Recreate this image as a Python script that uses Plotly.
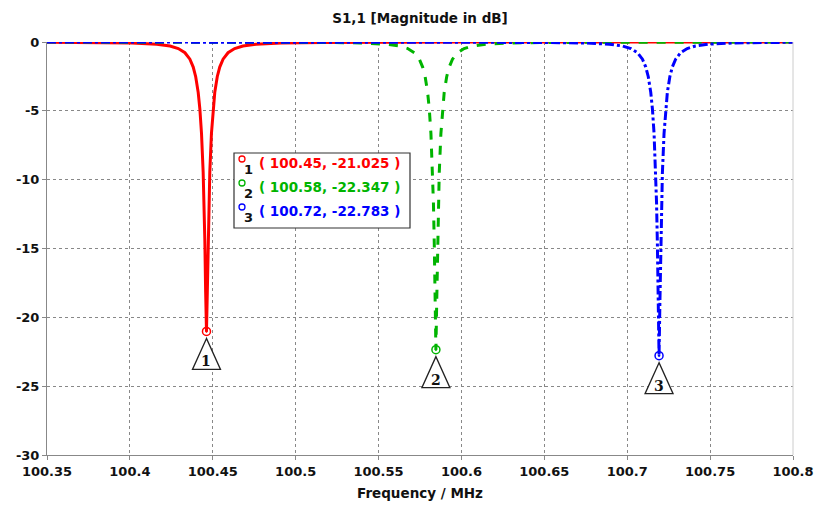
import plotly.graph_objects as go

# ---- data ----
red_f = [100.35, 100.3762, 100.4012, 100.4162, 100.4242, 100.4292, 100.4332, 100.4362, 100.4382,
         100.4397, 100.4412, 100.4422, 100.4432, 100.4442, 100.4447, 100.4452, 100.4457, 100.4462,
         100.4467, 100.4472, 100.4477, 100.4482, 100.4492, 100.4502, 100.4512, 100.4527, 100.4542,
         100.4562, 100.4592, 100.4632, 100.4682, 100.4762, 100.4912, 100.5162, 100.5462, 100.60,
         100.70, 100.80]
red_db = [-0.016, -0.030, -0.071, -0.158, -0.29, -0.475, -0.78, -1.25, -1.82,
          -2.52, -3.66, -4.85, -6.63, -9.46, -11.54, -14.37, -18.18, -21.025,
          -18.18, -14.37, -11.54, -9.46, -6.63, -4.85, -3.66, -2.52, -1.82,
          -1.25, -0.78, -0.475, -0.29, -0.158, -0.071, -0.030, -0.015, -0.007,
          -0.003, -0.002]

green_f = [100.35, 100.45, 100.5146, 100.5396, 100.5546, 100.5626, 100.5676, 100.5716, 100.5746,
           100.5766, 100.5781, 100.5796, 100.5806, 100.5816, 100.5826, 100.5831, 100.5836, 100.5841,
           100.5846, 100.5851, 100.5856, 100.5861, 100.5866, 100.5876, 100.5886, 100.5896, 100.5911,
           100.5926, 100.5946, 100.5976, 100.6016, 100.6066, 100.6146, 100.6296, 100.6546, 100.70,
           100.80]
green_db = [-0.003, -0.008, -0.030, -0.071, -0.158, -0.29, -0.475, -0.78, -1.25,
            -1.82, -2.52, -3.66, -4.86, -6.66, -9.53, -11.66, -14.62, -18.81,
            -22.347, -18.81, -14.62, -11.66, -9.53, -6.66, -4.86, -3.66, -2.52,
            -1.82, -1.25, -0.78, -0.475, -0.29, -0.158, -0.071, -0.030, -0.011,
            -0.003]

blue_f = [100.35, 100.50, 100.60, 100.6492, 100.6742, 100.6892, 100.6972, 100.7022, 100.7062,
          100.7092, 100.7112, 100.7127, 100.7142, 100.7152, 100.7162, 100.7172, 100.7177, 100.7182,
          100.7187, 100.7192, 100.7197, 100.7202, 100.7207, 100.7212, 100.7222, 100.7232, 100.7242,
          100.7257, 100.7272, 100.7292, 100.7322, 100.7362, 100.7412, 100.7492, 100.7642, 100.7892,
          100.80]
blue_db = [-0.001, -0.003, -0.010, -0.030, -0.071, -0.158, -0.29, -0.475, -0.78,
           -1.25, -1.82, -2.52, -3.66, -4.86, -6.67, -9.55, -11.70, -14.69,
           -18.99, -22.783, -18.99, -14.69, -11.70, -9.55, -6.67, -4.86, -3.66,
           -2.52, -1.82, -1.25, -0.78, -0.475, -0.29, -0.158, -0.071, -0.030,
           -0.022]

marker_f = [100.4462, 100.5846, 100.7192]
marker_db = [-21.025, -22.347, -22.783]
marker_label_f = ["100.45", "100.58", "100.72"]
marker_ids = ["1", "2", "3"]

x_ticks = [100.35, 100.4, 100.45, 100.5, 100.55, 100.6, 100.65, 100.7, 100.75, 100.8]
x_tick_text = ["100.35", "100.4", "100.45", "100.5", "100.55", "100.6", "100.65", "100.7", "100.75", "100.8"]
y_ticks = [0, -5, -10, -15, -20, -25, -30]

colors = ["#ff0000", "#00b400", "#0000ff"]
FONT = "DejaVu Sans"

FIG_W, FIG_H = 817, 505

fig = go.Figure()
fig.add_trace(go.Scatter(x=red_f, y=red_db, mode="lines",
                         line=dict(color=colors[0], width=3, dash="solid"), showlegend=False))
fig.add_trace(go.Scatter(x=green_f, y=green_db, mode="lines",
                         line=dict(color=colors[1], width=3, dash="dash"), showlegend=False))
fig.add_trace(go.Scatter(x=blue_f, y=blue_db, mode="lines",
                         line=dict(color=colors[2], width=3, dash="dashdot"), showlegend=False))

for i in range(3):
    fig.add_trace(go.Scatter(x=[marker_f[i]], y=[marker_db[i]], mode="markers",
                             marker=dict(symbol="circle-open-dot", size=8, color=colors[i],
                                         line=dict(width=1.5, color=colors[i])),
                             showlegend=False))
    # triangle below marker
    fig.add_shape(type="path", xref="x", yref="y", xsizemode="pixel", ysizemode="pixel",
                  xanchor=marker_f[i], yanchor=marker_db[i],
                  path="M 0,-7 L -14,-38 L 14,-38 Z",
                  line=dict(color="#222222", width=1.3), fillcolor="white")
    fig.add_annotation(x=marker_f[i], y=marker_db[i], xref="x", yref="y", yshift=-30,
                       xanchor="center", yanchor="middle",
                       text="<b>" + marker_ids[i] + "</b>", showarrow=False,
                       font=dict(family="DejaVu Serif", size=14, color="#111111"))

# plot area in window pixels
L, R, T, B = 47, 793, 42, 455
W, H = R - L, B - T
def px(x): return (x - L) / W
def py(y): return (B - y) / H

fig.add_shape(type="rect", xref="paper", yref="paper",
              x0=px(234), x1=px(410), y0=py(228), y1=py(153),
              line=dict(color="#333333", width=1.2), fillcolor="white")
row_y = [163, 187, 211]
for i in range(3):
    fig.add_shape(type="circle", xref="paper", yref="paper", xsizemode="pixel", ysizemode="pixel",
                  xanchor=px(242), yanchor=py(row_y[i] - 4), x0=-3, x1=3, y0=-3, y1=3,
                  line=dict(color=colors[i], width=1.3), fillcolor="white")
    fig.add_annotation(x=px(248), y=py(row_y[i] + 6), xref="paper", yref="paper",
                       xanchor="center", yanchor="middle",
                       text="<b>" + marker_ids[i] + "</b>", showarrow=False,
                       font=dict(family=FONT, size=13, color="#111111"))
    fig.add_annotation(x=px(257), y=py(row_y[i]), xref="paper", yref="paper",
                       xanchor="left", yanchor="middle",
                       text=f"<b>( {marker_label_f[i]}, {marker_db[i]:.3f} )</b>", showarrow=False,
                       font=dict(family=FONT, size=13.5, color=colors[i]))

fig.update_layout(
    width=FIG_W, height=FIG_H,
    margin=dict(l=L, r=FIG_W - R, t=T, b=FIG_H - B, autoexpand=False),
    paper_bgcolor="white", plot_bgcolor="white",
    title=dict(text="<b>S1,1 [Magnitude in dB]</b>", x=px(420), xref="paper",
               y=1 - 18 / FIG_H, yref="container",
               xanchor="center", yanchor="middle",
               font=dict(family=FONT, size=13.5, color="#111111")),
    font=dict(family=FONT, size=13, color="#111111"),
)
fig.update_xaxes(range=[100.35, 100.8], tickvals=x_ticks, ticktext=[f"<b>{t}</b>" for t in x_tick_text],
                 automargin=False, tickfont=dict(size=13),
                 showgrid=True, gridcolor="#888888", griddash="dot", gridwidth=1,
                 showline=True, linecolor="#888888", linewidth=1, mirror=False,
                 ticks="outside", ticklen=4, tickcolor="#888888",
                 zeroline=False,
                 title=dict(text="<b>Frequency / MHz</b>", standoff=10,
                            font=dict(family=FONT, size=13.5)))
fig.update_yaxes(range=[-30, 0], tickvals=y_ticks, ticktext=[f"<b>{t}</b>" for t in y_ticks],
                 automargin=False, tickfont=dict(size=13),
                 showgrid=True, gridcolor="#888888", griddash="dot", gridwidth=1,
                 showline=True, linecolor="#888888", linewidth=1,
                 ticks="outside", ticklen=4, tickcolor="#888888",
                 zeroline=False)
fig.add_shape(type="line", xref="paper", yref="paper", x0=1, x1=1, y0=0, y1=1,
              line=dict(color="#cccccc", width=1))

fig.write_html("out.html", config={"displayModeBar": False},
               post_script="document.body.style.margin='0';document.body.style.overflow='hidden';")
